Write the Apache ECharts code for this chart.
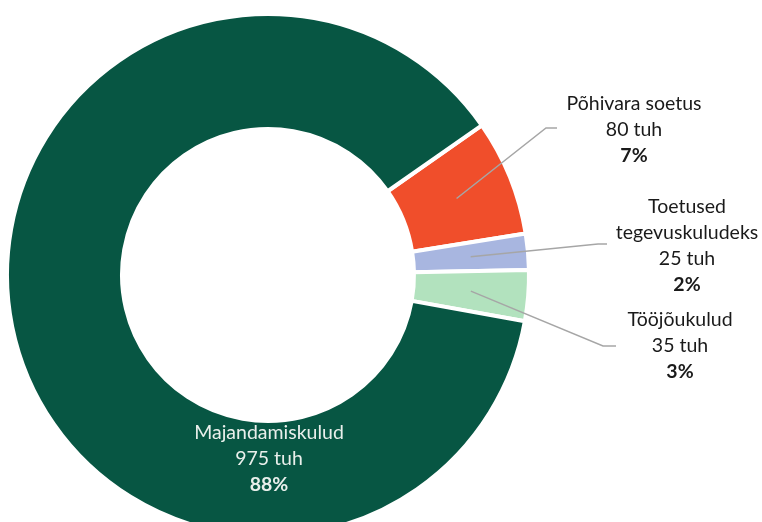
<!DOCTYPE html>
<html>
<head>
<meta charset="utf-8">
<script src="https://cdn.jsdelivr.net/npm/echarts@6/dist/echarts.min.js"></script>
<style>
  html, body { margin: 0; padding: 0; background: #fff; }
  #chart { width: 762px; height: 522px; }
</style>
</head>
<body>
<div id="chart"></div>
<script>
  // andmed
  const categories = ['Põhivara soetus', 'Toetused tegevuskuludeks', 'Tööjõukulud', 'Majandamiskulud']
  const labelNames = ['Põhivara soetus', 'Toetused\ntegevuskuludeks', 'Tööjõukulud', 'Majandamiskulud']
  const values = [80, 25, 35, 975]
  const percentLabels = ['7%', '2%', '3%', '88%']
  const colors = ['#F04E2B', '#A8B6E0', '#B2E2BE', '#075643']

  // sildi asukoht (teksti keskpunkt x, esimese rea ülaserv y) ja juhtjoone murdepunktid
  const labelSpots = [
    { x: 634, y: 91, line: [[546, 128], [557, 128]] },
    { x: 687, y: 194, line: [[598, 244], [607, 244]] },
    { x: 680, y: 307, line: [[603, 346], [616, 346]] },
    { x: 269, y: 420, line: null }
  ]

  const chart = echarts.init(document.getElementById('chart'))

  // rõnga keskjoone punkt sektori keskel
  function ringMid(idx) {
    const lay = chart.getModel().getSeriesByIndex(0).getData().getItemLayout(idx)
    const mid = (lay.startAngle + lay.endAngle) / 2
    const rm = (lay.r + lay.r0) / 2
    return [lay.cx + rm * Math.cos(mid), lay.cy + rm * Math.sin(mid)]
  }

  chart.setOption({
    animation: false,
    textStyle: { fontFamily: 'Lato' },
    series: [{
      type: 'pie',
      center: [268, 275],
      radius: [146, 261],
      startAngle: 35,
      clockwise: true,
      avoidLabelOverlap: false,
      itemStyle: { borderColor: '#ffffff', borderWidth: 4 },
      label: {
        show: true,
        position: 'outside',
        formatter: function (p) {
          return '{n|' + labelNames[p.dataIndex].split('\n').join('}\n{n|') + '}\n' +
            '{n|' + p.value + ' tuh}\n{b|' + percentLabels[p.dataIndex] + '}'
        },
        rich: {
          n: { fontFamily: 'Lato', fontSize: 19.5, lineHeight: 26, color: '#1a1a1a', align: 'center' },
          b: { fontFamily: 'Lato', fontSize: 19.5, lineHeight: 26, color: '#1a1a1a', fontWeight: 'bold', align: 'center' }
        }
      },
      labelLine: { show: false },
      labelLayout: function (p) {
        const spot = labelSpots[p.dataIndex]
        return { x: spot.x, y: spot.y, align: 'center', verticalAlign: 'top' }
      },
      data: categories.map(function (name, i) {
        const item = { name: name, value: values[i], itemStyle: { color: colors[i] } }
        if (i === 3) {
          item.label = {
            rich: {
              n: { color: '#e9efeb' },
              b: { color: '#e9efeb' }
            }
          }
        }
        return item
      })
    }]
  })

  // juhtjooned sektori keskelt sildini
  const leaders = []
  labelSpots.forEach(function (spot, i) {
    if (!spot.line) return
    leaders.push({
      type: 'polyline',
      z: 10,
      shape: { points: [ringMid(i), spot.line[0], spot.line[1]] },
      style: { stroke: '#a6a6a6', lineWidth: 1.5, fill: null }
    })
  })
  chart.setOption({ graphic: leaders })
</script>
</body>
</html>
